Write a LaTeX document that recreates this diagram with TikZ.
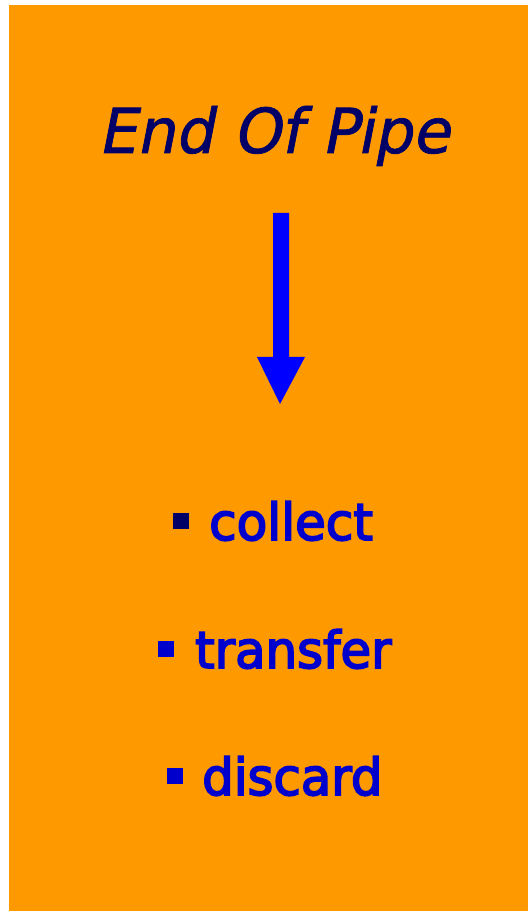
\documentclass[tikz,border=0pt]{standalone}
\usepackage{fontspec}
\setmainfont{DejaVu Sans}
\newfontfamily\itemfont[FakeBold=3.5]{DejaVu Sans}
\newfontfamily\titlefont[FakeBold=1.2,FakeSlant=0.2]{DejaVu Sans}
\definecolor{bgorange}{HTML}{FF9900}
\definecolor{navy}{HTML}{000066}
\definecolor{itemblue}{HTML}{0000CC}
\definecolor{arrowblue}{HTML}{0000FF}
\begin{document}
\begin{tikzpicture}[x=1pt,y=1pt,
  titletext/.style={anchor=base west,inner sep=0pt,text=navy,font=\fontsize{62}{62}\titlefont},
  itemtext/.style={anchor=base west,inner sep=0pt,text=itemblue,font=\fontsize{51}{51}\itemfont},
  bulletsq/.style={fill=#1}]
\useasboundingbox (0,0) rectangle (528,911);
\fill[bgorange] (9,0) rectangle (528,906);
\node[titletext] (title) at (98,758) {\scalebox{0.98}[1]{End Of Pipe}};
\fill[arrowblue] (273,698) -- (289,698) -- (289,554) -- (305,554) -- (280,507) -- (257,554) -- (273,554) -- cycle;
\fill[bulletsq=navy] (173,382) rectangle (189,398);
\node[itemtext] (collect) at (209,371) {\scalebox{0.98}[1]{collect}};
\fill[bulletsq=itemblue] (158,254) rectangle (174,270);
\node[itemtext] (transfer) at (195,243) {\scalebox{0.975}[1]{transfer}};
\fill[bulletsq=itemblue] (167,127) rectangle (183,143);
\node[itemtext] (discard) at (202,116) {\scalebox{0.975}[1]{discard}};
\end{tikzpicture}
\end{document}
